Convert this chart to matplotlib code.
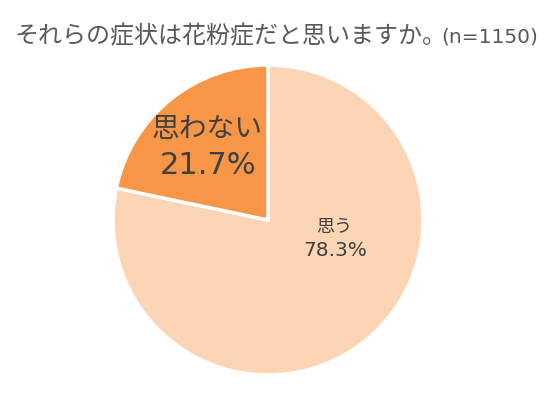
import matplotlib
matplotlib.use("Agg")
import matplotlib.pyplot as plt

plt.rcParams['font.family'] = ['Noto Sans CJK JP', 'DejaVu Sans']

title_main = "それらの症状は花粉症だと思いますか。"
title_n = "(n=1150)"
categories = ["思う", "思わない"]
values = [78.3, 21.7]
colors = ["#FCD5B5", "#F79646"]

W, H = 554, 417
fig = plt.figure(figsize=(W / 100, H / 100), dpi=100)
cx, cy, r = 268, 220, 155
ax = fig.add_axes([(cx - r) / W, (H - cy - r) / H, 2 * r / W, 2 * r / H])
wedges, _ = ax.pie(values, colors=colors, startangle=90, counterclock=False,
                   wedgeprops=dict(edgecolor="white", linewidth=2.5), radius=1)
ax.set_xlim(-1, 1)
ax.set_ylim(-1, 1)
ax.set_aspect("auto")
ax.axis("off")

def d(px, py):
    return (px - cx) / r, (cy - py) / r

tc = "#404040"
x, y = d(334, 227)
ax.text(x, y, categories[0], ha="center", va="center", fontsize=13, color=tc)
x, y = d(335, 251)
ax.text(x, y, f"{values[0]}%", ha="center", va="center", fontsize=14.5, color=tc,
        family="DejaVu Sans")
x, y = d(207, 129)
ax.text(x, y, categories[1], ha="center", va="center", fontsize=20, color=tc)
x, y = d(208, 166)
ax.text(x, y, f"{values[1]}%", ha="center", va="center", fontsize=22, color=tc,
        family="DejaVu Sans")

t1 = fig.text(15 / W, 1 - 36 / H, title_main, ha="left", va="center", fontsize=17.3, color="#595959")
fig.canvas.draw()
bb = t1.get_window_extent()
fig.text((bb.x1 - 6) / W, 1 - 37 / H, title_n, ha="left", va="center", fontsize=14.5,
         color="#595959", family="DejaVu Sans")

fig.savefig("out.png", dpi=100)
